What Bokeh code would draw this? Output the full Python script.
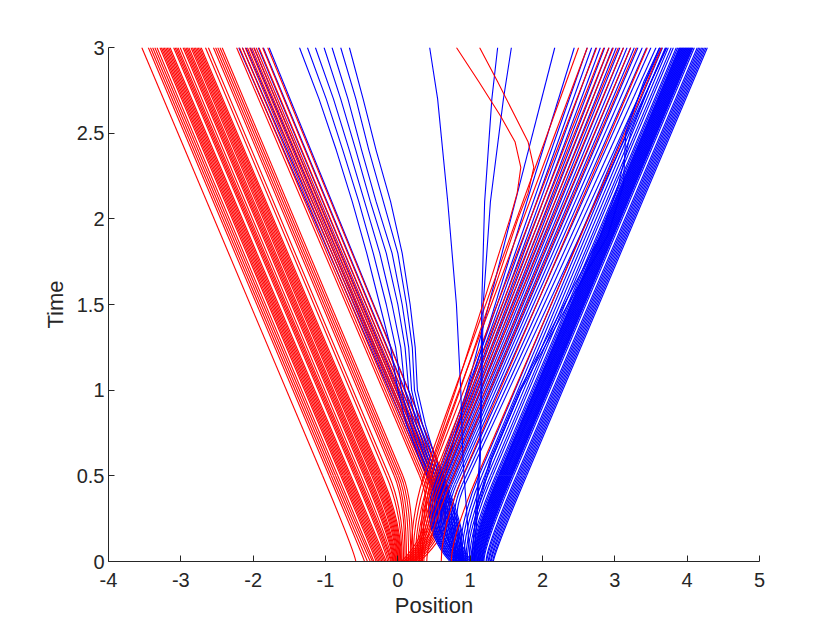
import numpy as np
from bokeh.plotting import figure
from bokeh.models import Range1d, FixedTicker
from bokeh.embed import file_html
from bokeh.resources import INLINE

# ---------------- data ----------------
x_ticks = [-4, -3, -2, -1, 0, 1, 2, 3, 4, 5]
x_tick_labels = ["-4", "-3", "-2", "-1", "0", "1", "2", "3", "4", "5"]
y_ticks = [0, 0.5, 1, 1.5, 2, 2.5, 3]
y_tick_labels = ["0", "0.5", "1", "1.5", "2", "2.5", "3"]
t_end = 3.0

# red particles pushed to the left: start x, x at knee time, x at t=3
R1_knee_t = 0.5
R1_start = [-0.58, -0.46, -0.42, -0.38, -0.35, -0.33, -0.30, -0.28, -0.26, -0.24, -0.22, -0.20,
            -0.18, -0.16, -0.14, -0.12, -0.10, -0.09, -0.08, -0.07, -0.06, -0.05, -0.04, -0.03,
            -0.02, -0.01, 0.00, 0.01, 0.02, 0.03, 0.04, 0.05, 0.06, 0.08, 0.10, 0.12, 0.15,
            0.18, 0.21]
R1_knee = [-1.04, -0.95, -0.92, -0.89, -0.86, -0.83, -0.79, -0.77, -0.75, -0.73, -0.71, -0.69,
           -0.67, -0.65, -0.60, -0.58, -0.56, -0.54, -0.51, -0.47, -0.45, -0.43, -0.41, -0.39,
           -0.36, -0.34, -0.32, -0.30, -0.28, -0.26, -0.24, -0.22, -0.16, -0.12, -0.05, -0.02,
           0.01, 0.04, 0.07]
R1_end = [-3.54, -3.45, -3.42, -3.39, -3.36, -3.33, -3.29, -3.27, -3.25, -3.23, -3.21, -3.19,
          -3.17, -3.15, -3.10, -3.08, -3.06, -3.04, -3.01, -2.97, -2.95, -2.93, -2.91, -2.89,
          -2.86, -2.84, -2.82, -2.80, -2.78, -2.76, -2.74, -2.72, -2.66, -2.62, -2.55, -2.52,
          -2.49, -2.46, -2.43]

# red particles bouncing back off the blue cloud
R2_knee_t = 0.5
R2_start = [0.05, 0.08, 0.10, 0.12, 0.14, 0.16, 0.18, 0.20, 0.22, 0.24, 0.27, 0.30]
R2_knee = [0.30, 0.33, 0.36, 0.39, 0.42, 0.44, 0.47, 0.49, 0.52, 0.55, 0.58, 0.63]
R2_end = [-2.23, -2.19, -2.15, -2.11, -2.08, -2.05, -2.02, -1.99, -1.96, -1.92, -1.87, -1.80]

# red particles passing through to the right
R3_knee_t = 0.55
R3_start = [0.18, 0.21, 0.24, 0.26, 0.28, 0.30, 0.32, 0.34, 0.36, 0.40, 0.60, 0.74]
R3_knee = [0.40, 0.45, 0.50, 0.55, 0.58, 0.62, 0.66, 0.70, 0.76, 0.82, 0.95, 1.15]
R3_end = [2.50, 2.62, 2.75, 2.85, 2.92, 2.98, 3.05, 3.12, 3.22, 3.30, 3.45, 3.65]

# red particles that turn around late
TA_t = [0, 0.3, 0.6, 1.0, 1.4, 1.8, 2.0, 2.15, 2.3, 2.45, 2.6, 2.8, 3.0]
TA1_x = [0.30, 0.34, 0.48, 0.80, 1.10, 1.40, 1.55, 1.65, 1.70, 1.62, 1.42, 1.12, 0.81]
TA2_x = [0.33, 0.37, 0.52, 0.86, 1.18, 1.50, 1.66, 1.80, 1.88, 1.80, 1.62, 1.38, 1.13]

# blue particles pushed to the right
B1_knee_t = 0.5
B1_start = [0.85, 0.88, 0.91, 0.94, 0.96, 0.99, 1.01, 1.03, 1.04, 1.05, 1.06, 1.06, 1.07,
            1.08, 1.08, 1.09, 1.10, 1.11, 1.11, 1.12, 1.13, 1.13, 1.14, 1.15, 1.16, 1.16,
            1.17, 1.18, 1.19, 1.22, 1.23, 1.25, 1.26, 1.28, 1.29, 1.31, 1.32]
B1_knee = [1.12, 1.16, 1.20, 1.24, 1.28, 1.31, 1.35, 1.37, 1.39, 1.40, 1.41, 1.42, 1.43,
           1.44, 1.45, 1.46, 1.47, 1.48, 1.49, 1.50, 1.51, 1.52, 1.53, 1.54, 1.55, 1.56,
           1.57, 1.58, 1.60, 1.64, 1.66, 1.68, 1.70, 1.72, 1.74, 1.76, 1.78]
B1_end = [3.62, 3.66, 3.70, 3.74, 3.78, 3.81, 3.85, 3.87, 3.89, 3.90, 3.91, 3.92, 3.93,
          3.94, 3.95, 3.96, 3.97, 3.98, 3.99, 4.00, 4.01, 4.02, 4.03, 4.04, 4.05, 4.06,
          4.07, 4.08, 4.10, 4.14, 4.16, 4.18, 4.20, 4.22, 4.24, 4.26, 4.28]

# blue particles passing through to the left
B2_knee_t = 0.5
B2_start = [0.74, 0.77, 0.79, 0.81, 0.84, 0.87, 0.90, 0.94]
B2_knee = [0.40, 0.43, 0.45, 0.48, 0.51, 0.55, 0.59, 0.63]
B2_end = [-2.20, -2.15, -2.10, -2.04, -1.99, -1.93, -1.86, -1.78]

# blue particles that stall and drift left (curved)
B3_t = [0, 0.2, 0.4, 0.6, 0.8, 1.0, 1.25, 1.5, 1.8, 2.1, 2.4, 2.7, 3.0]
B3_x1 = [0.80, 0.74, 0.52, 0.30, 0.12, 0.00, -0.10, -0.25, -0.43, -0.63, -0.85, -1.09, -1.36]
B3_x2 = [0.82, 0.76, 0.55, 0.34, 0.17, 0.05, -0.03, -0.16, -0.34, -0.54, -0.76, -0.99, -1.25]
B3_x3 = [0.84, 0.78, 0.58, 0.38, 0.22, 0.10, 0.04, -0.08, -0.25, -0.46, -0.67, -0.89, -1.14]
B3_x4 = [0.86, 0.80, 0.61, 0.42, 0.26, 0.15, 0.10, 0.00, -0.16, -0.38, -0.58, -0.79, -1.02]
B3_x5 = [0.88, 0.82, 0.64, 0.45, 0.30, 0.19, 0.15, 0.06, -0.08, -0.30, -0.50, -0.69, -0.91]
B3_x6 = [0.90, 0.84, 0.67, 0.49, 0.34, 0.23, 0.20, 0.12, 0.00, -0.20, -0.40, -0.58, -0.79]
B3_x7 = [0.92, 0.86, 0.70, 0.52, 0.38, 0.27, 0.24, 0.17, 0.06, -0.10, -0.30, -0.48, -0.67]

# blue particles bouncing back to the right (mixed bundle)
B4_knee_t = 0.45
B4_start = [0.90, 0.88, 0.72, 0.74, 0.75, 0.77, 0.78, 0.80, 0.81, 0.83, 0.84, 0.86, 0.87,
            0.89, 0.90, 0.92, 0.93, 0.95, 0.96, 0.98, 1.00, 1.02]
B4_knee = [0.62, 0.58, 0.50, 0.52, 0.54, 0.55, 0.57, 0.58, 0.60, 0.62, 0.63, 0.65, 0.67,
           0.69, 0.71, 0.73, 0.75, 0.78, 0.81, 0.85, 0.89, 0.93]
B4_end = [2.17, 2.44, 2.62, 2.68, 2.74, 2.80, 2.86, 2.92, 2.97, 3.02, 3.07, 3.12, 3.17,
          3.22, 3.27, 3.32, 3.38, 3.44, 3.50, 3.57, 3.64, 3.72]

# slow, nearly vertical blue particles and two wavy ones
BV_t = [0, 0.3, 0.6, 1.0, 1.5, 2.1, 2.7, 3.0]
BV1_x = [1.00, 0.95, 0.90, 0.87, 0.81, 0.69, 0.55, 0.44]
BV2_x = [1.02, 1.08, 1.13, 1.15, 1.16, 1.20, 1.30, 1.38]
BV3_x = [1.05, 1.10, 1.14, 1.16, 1.18, 1.28, 1.46, 1.57]
BW_t = [0, 0.3, 0.6, 1.0, 1.5, 1.9, 2.2, 2.5, 2.8, 3.0]
BW1_x = [1.05, 1.10, 1.30, 1.70, 2.35, 2.90, 3.12, 3.15, 3.40, 3.62]
BW2_x = [1.02, 1.08, 1.28, 1.68, 2.30, 2.80, 3.05, 3.22, 3.50, 3.71]

RED = "#FF0000"
BLUE = "#0000FF"
AX = "#262626"
FONT = "Liberation Sans"
LW = 1.1

p = figure(width=827, height=622, x_range=Range1d(-4, 5), y_range=Range1d(0, 3),
           output_backend="svg", toolbar_location=None,
           min_border_left=108, min_border_right=68, min_border_top=47, min_border_bottom=61)
p.outline_line_color = None
p.grid.visible = False
p.background_fill_color = "white"
p.border_fill_color = "white"


def draw_group(starts, knees, ends, tk, color):
    s = np.array(starts, dtype=float)
    k = np.array(knees, dtype=float)
    e = np.array(ends, dtype=float)
    assert len(s) == len(k) == len(e)
    slope = (e - k) / (t_end - tk)
    with np.errstate(divide="ignore", invalid="ignore"):
        tc = tk - (k - s) / slope
    bounce = ~np.isfinite(tc) | (tc >= 0.98 * tk)
    tctrl = np.where(bounce, 0.45 * tk, np.maximum(tc, 0.15 * tk))
    cx = k + (tctrl - tk) * slope
    p.quadratic(x0=s, y0=np.zeros_like(s), x1=k, y1=np.full_like(s, tk), cx=cx, cy=tctrl,
                line_color=color, line_width=LW)
    p.segment(x0=k, y0=np.full_like(s, tk), x1=e, y1=np.full_like(s, t_end),
              line_color=color, line_width=LW)


def draw_paths(ts, paths, color):
    for xs in paths:
        assert len(xs) == len(ts)
    p.multi_line(xs=[list(x) for x in paths], ys=[list(ts) for _ in paths],
                 line_color=color, line_width=LW, line_join="round")


draw_group(R1_start, R1_knee, R1_end, R1_knee_t, RED)
draw_group(B1_start, B1_knee, B1_end, B1_knee_t, BLUE)
draw_group(B2_start, B2_knee, B2_end, B2_knee_t, BLUE)
draw_group(R2_start, R2_knee, R2_end, R2_knee_t, RED)
draw_paths(B3_t, [B3_x1, B3_x2, B3_x3, B3_x4, B3_x5, B3_x6, B3_x7], BLUE)
draw_group(B4_start, B4_knee, B4_end, B4_knee_t, BLUE)
draw_group(R3_start, R3_knee, R3_end, R3_knee_t, RED)
draw_paths(BV_t, [BV1_x, BV2_x, BV3_x], BLUE)
draw_paths(BW_t, [BW1_x, BW2_x], BLUE)
draw_paths(TA_t, [TA1_x, TA2_x], RED)

p.xaxis.ticker = FixedTicker(ticks=x_ticks)
p.yaxis.ticker = FixedTicker(ticks=y_ticks)
p.xaxis.major_label_overrides = {float(v): s for v, s in zip(x_ticks, x_tick_labels)}
p.yaxis.major_label_overrides = {float(v): s for v, s in zip(y_ticks, y_tick_labels)}
p.xaxis.axis_label = "Position"
p.yaxis.axis_label = "Time"
for ax in (p.xaxis, p.yaxis):
    ax.axis_line_color = AX
    ax.axis_line_width = 1
    ax.major_tick_line_color = AX
    ax.major_tick_in = 6
    ax.major_tick_out = 0
    ax.minor_tick_in = 0
    ax.minor_tick_out = 0
    ax.minor_tick_line_color = None
    ax.major_label_text_color = AX
    ax.major_label_text_font = FONT
    ax.major_label_text_font_size = "20px"
    ax.axis_label_text_color = AX
    ax.axis_label_text_font = FONT
    ax.axis_label_text_font_size = "22px"
    ax.axis_label_text_font_style = "normal"
p.xaxis.major_label_standoff = 11
p.xaxis.axis_label_standoff = 3
p.yaxis.major_label_standoff = 4
p.yaxis.axis_label_standoff = 6

open("out.html", "w").write(file_html(p, INLINE))
